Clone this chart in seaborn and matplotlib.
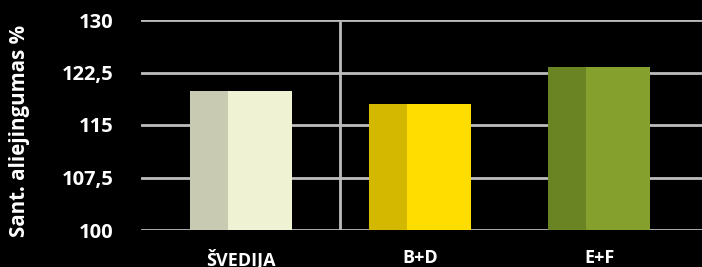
import pandas as pd
import seaborn as sns
import matplotlib.pyplot as plt

categories = ['ŠVEDIJA', 'B+D', 'E+F']
values = [119.9, 118.0, 123.3]
light_colors = ['#F0F2D4', '#FFDD00', '#86A02D']
dark_colors = ['#C8CAB2', '#D4B800', '#6B8423']
yticks = [100, 107.5, 115, 122.5, 130]
ytick_labels = ['100', '107,5', '115', '122,5', '130']

df = pd.DataFrame({'group': categories, 'value': values})

sns.set_style("dark")
plt.rcParams['font.family'] = ['Open Sans', 'DejaVu Sans']
plt.rcParams['font.weight'] = 'bold'

fig = plt.figure(figsize=(7.02, 2.67), dpi=100, facecolor='black')
ax = fig.add_axes([141 / 702, 37 / 267, 561 / 702, 210 / 267])
ax.set_facecolor('black')

sns.barplot(data=df, x='group', y='value', hue='group', palette=light_colors,
            width=0.57, legend=False, ax=ax, saturation=1, zorder=3,
            linewidth=0, edgecolor='none')

# darker left strip on each bar
for bar, c in zip(ax.patches, dark_colors):
    h = bar.get_height()
    ax.bar(bar.get_x(), h, width=bar.get_width() * 0.37, bottom=bar.get_y(),
           align='edge', color=c, linewidth=0, zorder=4)

ax.set_ylim(100, 130)
ax.set_xlim(-0.559, 2.575)
ax.set_yticks(yticks)
ax.set_yticklabels(ytick_labels)
ax.grid(axis='y', color='#BDBDBD', linewidth=2, zorder=0)
ax.grid(axis='x', visible=False)
ax.axvline(0.55, ymin=0, ymax=0.99, color='#BDBDBD', linewidth=2, zorder=1)

for s in ax.spines.values():
    s.set_visible(False)
ax.tick_params(axis='y', colors='white', labelsize=14.5, length=0, pad=20)
ax.tick_params(axis='x', colors='white', labelsize=13, length=0, pad=14)
for lab in ax.get_yticklabels() + ax.get_xticklabels():
    lab.set_fontweight('bold')

ax.set_xlabel('')
ax.set_ylabel('Sant. aliejingumas %', color='white', fontsize=14.8,
              fontweight='bold')
ax.yaxis.set_label_coords(-0.198, 0.471)

fig.savefig('out.png', dpi=100, facecolor='black')
